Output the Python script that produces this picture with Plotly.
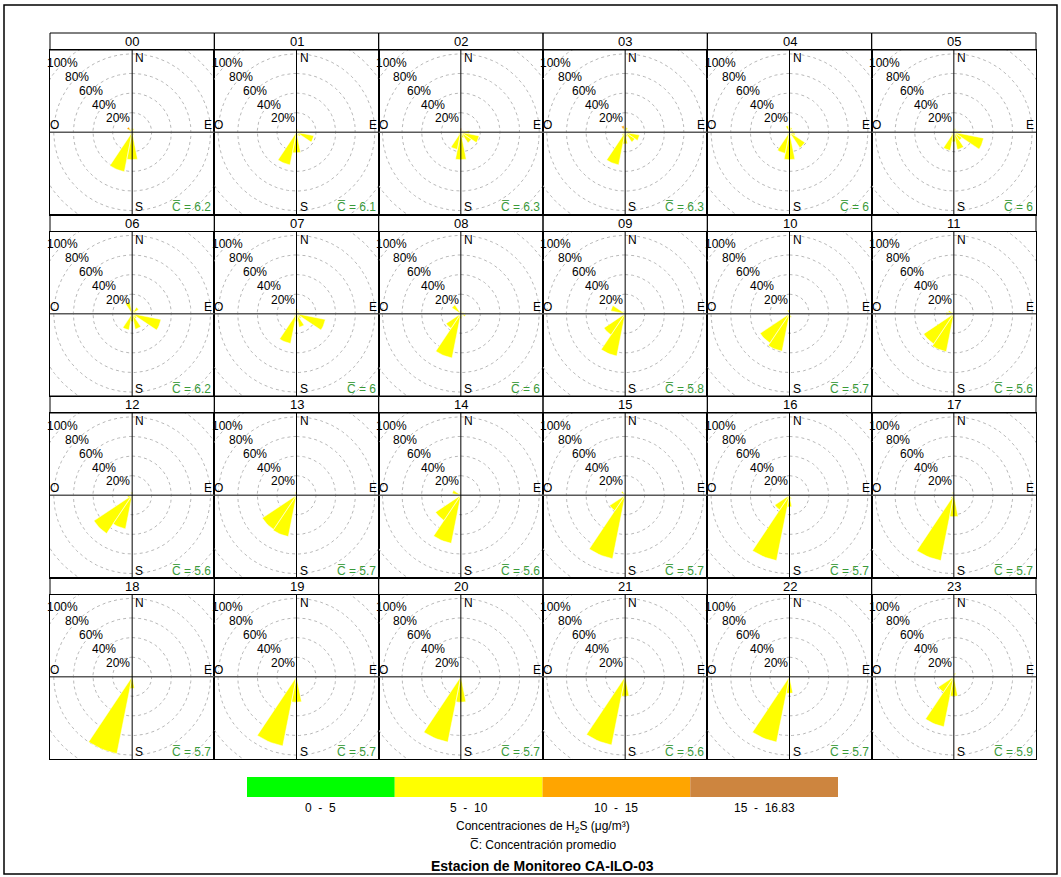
import numpy as np
import plotly.graph_objects as go

W, H = 1061, 877

hours = [f"{h:02d}" for h in range(24)]
directions = ["N", "NNE", "NE", "ENE", "E", "ESE", "SE", "SSE",
              "S", "SSW", "SW", "WSW", "W", "WNW", "NW", "NNW"]
dir_angles = [22.5 * k for k in range(16)]
conc_mean = [6.2, 6.1, 6.3, 6.3, 6, 6,
             6.2, 6, 6, 5.8, 5.7, 5.6,
             5.6, 5.7, 5.6, 5.7, 5.7, 5.7,
             5.7, 5.7, 5.7, 5.6, 5.7, 5.9]
ring_values = [20, 40, 60, 80, 100]
ring_labels = ["20%", "40%", "60%", "80%", "100%"]

band_labels = ["0  -  5", "5  -  10", "10  -  15", "15  -  16.83"]
band_colors = ["#00FF00", "#FFFF00", "#FFA500", "#CD853F"]

# frequency (%) per hour, 16 directions N..NNW, band 0-5
freq_0_5 = [
    [0, 0, 0, 0, 0, 0, 0, 0, 0.5, 1, 0, 0, 0, 0, 0.5, 0],
    [0, 0, 0, 0, 0, 0, 0, 0, 0, 0, 0, 0, 0, 0, 0, 0],
    [0, 0, 0, 0, 0, 0, 0, 0, 0, 0, 0, 0, 0, 0, 0, 0],
    [0, 0, 0, 0, 0, 0, 0, 0, 0, 0, 0, 0, 0, 0, 0, 0],
    [0, 0, 0, 0, 0, 0, 0, 0, 0, 0, 0, 0, 0, 0, 0, 0],
    [0, 0, 0, 0, 0, 0, 0, 0, 0, 0, 0, 0, 0, 0, 0, 0],
    [0, 0, 0, 0, 0, 0, 0, 0, 0, 0, 0, 0, 0, 0, 0, 0],
    [0, 0, 0, 0, 0, 0, 0, 0, 0, 0, 0, 0, 0, 0, 0, 0],
    [0, 0, 0, 0, 0, 0, 0, 0, 0, 0, 0, 0, 0, 0, 0, 0],
    [0, 0, 0, 0, 0, 0, 0, 0, 0, 0, 0, 0, 0, 0, 0, 0],
    [0, 0, 0, 0, 0, 0, 0, 0, 0, 0, 0, 0, 0, 0, 0, 0],
    [0, 0, 0, 0, 0, 0, 0, 0, 0, 1, 0, 0, 0, 0, 0, 0],
    [0, 0, 0, 0, 0, 0, 0, 0, 0, 1, 0.5, 0, 0, 0, 0, 0],
    [0, 0, 0, 0, 0, 0, 0, 0, 0, 0, 0, 0, 0, 0, 0, 0],
    [0, 0, 0, 0, 0, 0, 0, 0, 0, 0, 0, 0, 0, 0, 0, 0],
    [0, 0, 0, 0, 0, 0, 0, 0, 0, 0, 0, 0, 0, 0, 0, 0],
    [0, 0, 0, 0, 0, 0, 0, 0, 0, 0, 0, 0, 0, 0, 0, 0],
    [0, 0, 0, 0, 0, 0, 0, 0, 0, 0, 0, 0, 0, 0, 0, 0],
    [0, 0, 0, 0, 0, 0, 0, 0, 0, 0, 0, 0, 0, 0, 0, 0],
    [0, 0, 0, 0, 0, 0, 0, 0, 0, 0, 0, 0, 0, 0, 0, 0],
    [0, 0, 0, 0, 0, 0, 0, 0, 0, 1, 0, 0, 0, 0, 0, 0],
    [0, 0, 0, 0, 0, 0, 0, 0, 0, 1, 0, 0, 0, 0, 0, 0],
    [0, 0, 0, 0, 0, 0, 0, 0, 0, 1, 0, 0, 0, 0, 0, 0],
    [0, 0, 0, 0, 0, 0, 0, 0, 0, 0, 0, 0, 0, 0, 0, 0],
]
# band 5-10
freq_5_10 = [
    [4, 4, 2, 0, 2, 0, 2, 3, 27.5, 40, 3, 0, 0, 0, 4, 2],
    [3, 3, 2, 3, 6, 18, 5, 4, 21, 34, 2, 0, 0, 0, 1, 1],
    [2, 2, 1, 3, 9, 19, 13, 6, 28, 18, 3, 0, 0, 1, 1, 2],
    [2, 5, 3, 4, 6, 15, 12, 5, 12, 34, 4, 0, 0, 0, 1, 4],
    [5, 5, 3, 4, 4, 6, 19, 4, 28, 22, 3, 0, 0, 0, 1, 7],
    [3, 4, 3, 4, 8, 31, 10, 18, 10, 19, 3, 0, 0, 0, 1, 2],
    [3, 4, 8, 4, 5, 30, 6, 16, 8, 17, 2, 0, 0, 0, 1, 12],
    [5, 3, 3, 3, 5, 30, 6, 14, 8, 31, 3, 0, 0, 0, 1, 2],
    [2, 2, 1, 3, 5, 5, 2, 3, 5, 46, 18, 2, 0, 1, 11, 3],
    [2, 1, 0, 0, 2, 1, 1, 1, 3, 44, 26, 2, 1, 15, 3, 2],
    [2, 1, 0, 0, 0, 1, 2, 4, 3, 39, 36, 2, 0, 0, 1, 4],
    [2, 0, 0, 0, 0, 0, 0, 0, 2, 38.5, 37, 2, 8, 6, 1, 1],
    [3, 0, 0, 0, 0, 0, 0, 0, 1, 34, 46.5, 5, 1, 0, 1, 3],
    [2, 0, 0, 0, 0, 0, 0, 0, 2, 43, 42, 2, 0, 0, 1, 3],
    [1, 0, 0, 0, 0, 0, 0, 0, 2, 50, 31, 2, 0, 9, 2, 3],
    [2, 0, 0, 0, 0, 0, 0, 0, 2, 66, 19, 1, 0, 1, 5, 2],
    [1, 0, 0, 0, 0, 0, 0, 4, 12, 68, 18, 1, 0, 0, 1, 2],
    [2, 0, 0, 0, 0, 0, 0, 2, 22, 68, 4, 0, 0, 0, 1, 3],
    [2, 0, 0, 0, 0, 0, 0, 1, 12, 80, 2, 0, 0, 0, 0, 2],
    [1, 0, 0, 0, 0, 0, 0, 1, 26, 72, 2, 0, 0, 0, 0, 1],
    [1, 0, 0, 0, 0, 0, 0, 1, 26, 67, 2, 0, 0, 0, 0, 1],
    [1, 0, 0, 0, 0, 0, 0, 1, 20, 70, 1, 0, 0, 0, 0, 1],
    [2, 2, 0, 0, 0, 0, 0, 1, 17, 67, 1, 0, 0, 0, 0, 1],
    [2, 4, 1, 0, 0, 0, 0, 1, 20, 52, 19, 0, 0, 0, 0, 1],
]
# band 10-15
freq_10_15 = [[0] * 16 for _ in range(24)]
freq_10_15[0][14] = 2
freq_10_15[2][0] = 2
freq_10_15[3][15] = 3
# band 15-16.83
freq_15_max = [[0] * 16 for _ in range(24)]

bands = [freq_0_5, freq_5_10, freq_10_15, freq_15_max]

# ---------------- layout geometry (pixels) ----------------
GRID_L, GRID_R = 50, 1036
TOP0 = 33.0
ROW_H = 181.5
HEAD_H = 17.0
COL_W = (GRID_R - GRID_L) / 6
BODY_H = ROW_H - HEAD_H
PX_PER_PCT = 0.98
RX = COL_W / 2 / PX_PER_PCT
RY = BODY_H / 2 / PX_PER_PCT


def pxx(x):
    return x / W


def pxy(y):
    return 1 - y / H


FONT = "Liberation Sans, Arial, sans-serif"
CBAR = "C\u0305"

fig = go.Figure()
shapes = []
annotations = []
layout_axes = {}

t_circle = np.linspace(0, 2 * np.pi, 241)

for i, hr in enumerate(hours):
    r, c = divmod(i, 6)
    n = i + 1
    xa = "x" if n == 1 else f"x{n}"
    ya = "y" if n == 1 else f"y{n}"
    xk = "xaxis" if n == 1 else f"xaxis{n}"
    yk = "yaxis" if n == 1 else f"yaxis{n}"
    x0 = GRID_L + COL_W * c
    x1 = x0 + COL_W
    htop = TOP0 + ROW_H * r
    btop = htop + HEAD_H
    bbot = htop + ROW_H

    layout_axes[xk] = dict(domain=[pxx(x0), pxx(x1)], range=[-RX, RX], anchor=ya,
                           showgrid=False, zeroline=False, showticklabels=False, ticks="",
                           showline=True, mirror=True, linecolor="black", linewidth=1,
                           fixedrange=True)
    layout_axes[yk] = dict(domain=[pxy(bbot), pxy(btop)], range=[-RY, RY], anchor=xa,
                           showgrid=False, zeroline=False, showticklabels=False, ticks="",
                           showline=True, mirror=True, linecolor="black", linewidth=1,
                           fixedrange=True)

    # dashed rings
    xs, ys = [], []
    for rv in ring_values:
        xs += list(rv * np.sin(t_circle)) + [None]
        ys += list(rv * np.cos(t_circle)) + [None]
    fig.add_trace(go.Scatter(x=xs, y=ys, mode="lines", xaxis=xa, yaxis=ya,
                             line=dict(color="#B8B8B8", width=1, dash="3px,3px"),
                             hoverinfo="skip", showlegend=False))

    # stacked wedges
    cum = np.zeros(16)
    for b, band in enumerate(bands):
        vals = np.array(band[i], dtype=float)
        px_, py_ = [], []
        for k in range(16):
            if vals[k] <= 0:
                continue
            r0, r1 = cum[k], cum[k] + vals[k]
            th = np.radians(np.linspace(dir_angles[k] - 11.25, dir_angles[k] + 11.25, 8))
            ox = list(r1 * np.sin(th))
            oy = list(r1 * np.cos(th))
            ix = list(r0 * np.sin(th[::-1]))
            iy = list(r0 * np.cos(th[::-1]))
            px_ += ox + ix + [ox[0], None]
            py_ += oy + iy + [oy[0], None]
        cum += vals
        if px_:
            fig.add_trace(go.Scatter(x=px_, y=py_, mode="lines", fill="toself",
                                     fillcolor=band_colors[b], xaxis=xa, yaxis=ya,
                                     line=dict(color="white", width=0.5),
                                     hoverinfo="skip", showlegend=False))

    # axis cross lines (above traces)
    shapes.append(dict(type="line", xref=xa, yref=ya, x0=-RX, x1=RX, y0=0, y1=0,
                       line=dict(color="#5A5A5A", width=1.6), layer="above"))
    shapes.append(dict(type="line", xref=xa, yref=ya, x0=0, x1=0, y0=-RY, y1=RY,
                       line=dict(color="black", width=1), layer="above"))

    # header box
    shapes.append(dict(type="rect", xref="paper", yref="paper",
                       x0=pxx(x0), x1=pxx(x1), y0=pxy(btop), y1=pxy(htop),
                       line=dict(color="black", width=1), fillcolor="rgba(0,0,0,0)"))
    annotations.append(dict(text=hr, xref="paper", yref="paper",
                            x=pxx((x0 + x1) / 2), y=pxy((htop + btop) / 2 + 0.5),
                            xanchor="center", yanchor="middle", showarrow=False,
                            font=dict(family=FONT, size=13, color="black")))

    # compass letters
    tf = dict(family=FONT, size=12, color="black")
    annotations.append(dict(text="N", xref=xa, yref=ya, x=0, y=RY, xanchor="left",
                            yanchor="top", xshift=1, yshift=1, showarrow=False, font=tf))
    annotations.append(dict(text="S", xref=xa, yref=ya, x=0, y=-RY, xanchor="left",
                            yanchor="bottom", xshift=1, yshift=-2, showarrow=False, font=tf))
    annotations.append(dict(text="O", xref=xa, yref=ya, x=-RX, y=0, xanchor="left",
                            yanchor="bottom", xshift=-2, yshift=-2, showarrow=False, font=tf))
    annotations.append(dict(text="E", xref=xa, yref=ya, x=RX, y=0, xanchor="right",
                            yanchor="bottom", xshift=0, yshift=-2, showarrow=False, font=tf))

    # ring labels along NW direction
    for rv, lab in zip(ring_values, ring_labels):
        annotations.append(dict(text=lab, xref=xa, yref=ya,
                                x=-rv * np.sin(np.pi / 4), y=rv * np.cos(np.pi / 4),
                                xanchor="center", yanchor="middle", showarrow=False,
                                font=dict(family=FONT, size=12, color="black")))

    # mean concentration
    annotations.append(dict(text=f"{CBAR} = {conc_mean[i]:g}", xref=xa, yref=ya,
                            x=RX, y=-RY, xanchor="right", yanchor="bottom",
                            xshift=-1, yshift=-2, showarrow=False,
                            font=dict(family=FONT, size=12, color="#3A9A3A")))

# ---------------- colour key ----------------
KEY_L, KEY_R, KEY_T, KEY_B = 247, 838, 777, 797
kw = (KEY_R - KEY_L) / len(band_colors)
for b, (col, lab) in enumerate(zip(band_colors, band_labels)):
    kx0 = KEY_L + kw * b
    shapes.append(dict(type="rect", xref="paper", yref="paper",
                       x0=pxx(kx0), x1=pxx(kx0 + kw), y0=pxy(KEY_B), y1=pxy(KEY_T),
                       line=dict(width=0), fillcolor=col, layer="below"))
    annotations.append(dict(text=lab, xref="paper", yref="paper",
                            x=pxx(kx0 + kw / 2), y=pxy(808), xanchor="center",
                            yanchor="middle", showarrow=False,
                            font=dict(family=FONT, size=12, color="black")))

KEY_CX = (KEY_L + KEY_R) / 2
annotations.append(dict(text="Concentraciones de H<sub>2</sub>S (μg/m³)", xref="paper",
                        yref="paper", x=pxx(KEY_CX), y=pxy(827), xanchor="center",
                        yanchor="middle", showarrow=False,
                        font=dict(family=FONT, size=12, color="black")))
annotations.append(dict(text=f"{CBAR}: Concentración promedio", xref="paper",
                        yref="paper", x=pxx(KEY_CX), y=pxy(845), xanchor="center",
                        yanchor="middle", showarrow=False,
                        font=dict(family=FONT, size=12, color="black")))
annotations.append(dict(text="<b>Estacion de Monitoreo CA-ILO-03</b>", xref="paper",
                        yref="paper", x=pxx(KEY_CX), y=pxy(866), xanchor="center",
                        yanchor="middle", showarrow=False,
                        font=dict(family=FONT, size=14, color="black")))

# outer frame
shapes.append(dict(type="rect", xref="paper", yref="paper",
                   x0=pxx(4), x1=pxx(1057), y0=pxy(874), y1=pxy(5),
                   line=dict(color="black", width=1.5), fillcolor="rgba(0,0,0,0)"))

fig.update_layout(width=W, height=H, margin=dict(l=0, r=0, t=0, b=0),
                  paper_bgcolor="white", plot_bgcolor="white",
                  showlegend=False, shapes=shapes, annotations=annotations,
                  **layout_axes)

fig.write_html("out.html", config={"displayModeBar": False},
               post_script="document.body.style.margin='0px';"
                           "document.body.style.overflow='hidden';")
